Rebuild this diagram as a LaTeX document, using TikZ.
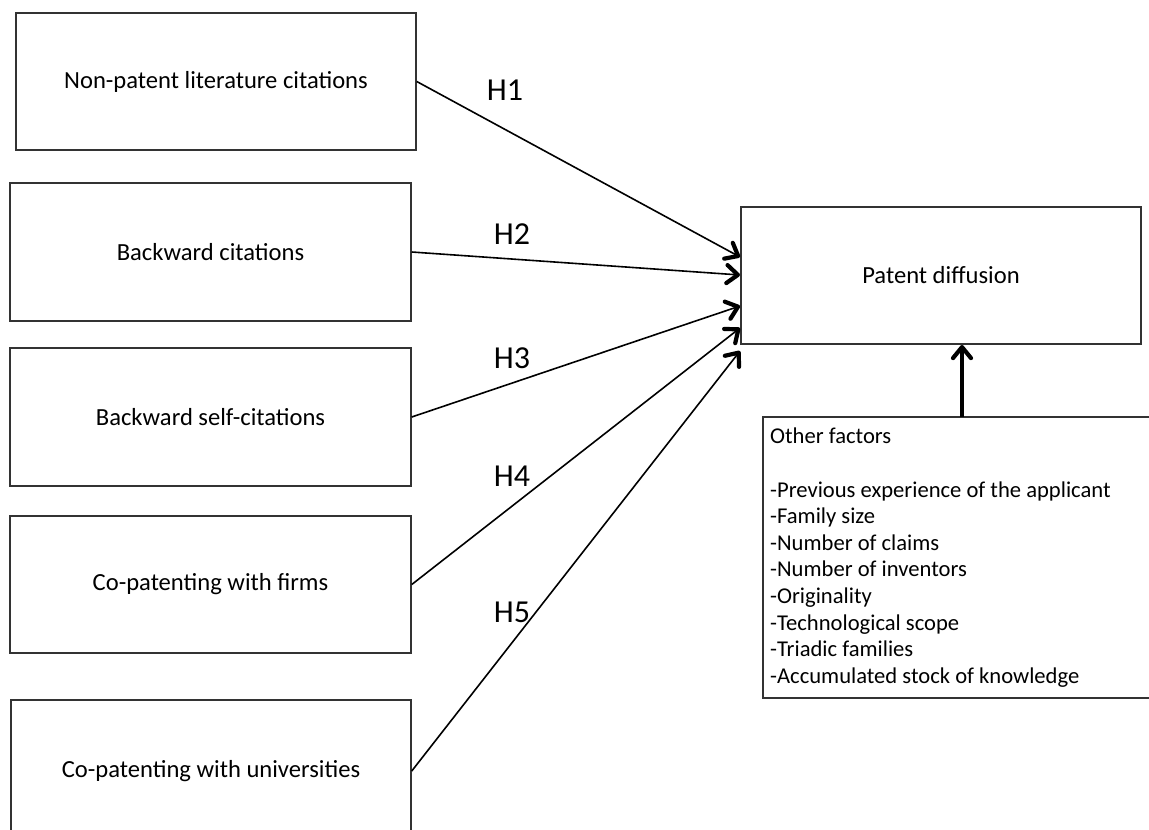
\documentclass[tikz,border=0pt]{standalone}
\usepackage{fontspec}
\setmainfont{Carlito}
\usetikzlibrary{arrows.meta}
\begin{document}
\begin{tikzpicture}[x=1pt,y=-1pt,
  box/.style={draw=black!80,line width=1.5pt,inner sep=0pt,font=\fontsize{24.6}{29}\selectfont},
  hyp/.style={font=\fontsize{32}{36}\selectfont,inner sep=0pt},
  conn/.style={line width=1.6pt,-{Straight Barb[length=11pt,width=18pt,line width=4.2pt,round]}},
  bigconn/.style={line width=3.2pt,-{Straight Barb[length=11pt,width=18pt,line width=4.2pt,round]}}]
\useasboundingbox (0,0) rectangle (1149,830);
\clip (0,0) rectangle (1149,830);
\fill[white] (0,0) rectangle (1149,830);
\node[box,minimum width=400pt,minimum height=137pt] (b1) at (216,81.5) {Non-patent literature citations};
\node[box,minimum width=401pt,minimum height=138pt] (b2) at (210.5,252) {Backward citations};
\node[box,minimum width=401pt,minimum height=138pt] (b3) at (210.5,417) {Backward self-citations};
\node[box,minimum width=401pt,minimum height=137pt] (b4) at (210.5,584.5) {Co-patenting with firms};
\node[box,minimum width=400pt,minimum height=142pt] (b5) at (211,771) {Co-patenting with universities};
\node[box,minimum width=400pt,minimum height=137pt] (pd) at (941,275.5) {Patent diffusion};
\node[draw=black!80,line width=1.5pt,minimum width=400pt,minimum height=281pt,inner sep=0pt] (of) at (963,557.5) {};
\node[anchor=north west,align=left,inner sep=0pt,font=\fontsize{22.6}{26.6}\selectfont] (oft) at (770,428)
 {Other factors\\[26.6pt]-Previous experience of the applicant\\-Family size\\-Number of claims\\-Number of inventors\\-Originality\\-Technological scope\\-Triadic families\\-Accumulated stock of knowledge};
\coordinate (e1) at (740,257);
\coordinate (e2) at (740,275);
\coordinate (e3) at (740,306);
\coordinate (e4) at (740,328);
\coordinate (e5) at (740,351);
\coordinate (ofTop) at (962,417);
\coordinate (pdBot) at (962,345);
\draw[conn] (b1.east) -- (e1);
\draw[conn] (b2.east) -- (e2);
\draw[conn] (b3.east) -- (e3);
\draw[conn] (b4.east) -- (e4);
\draw[conn] (b5.east) -- (e5);
\draw[bigconn] (ofTop) -- (pdBot);
\node[hyp] (h1) at (505,90) {H1};
\node[hyp] (h2) at (512,234) {H2};
\node[hyp] (h3) at (512,358) {H3};
\node[hyp] (h4) at (512,476) {H4};
\node[hyp] (h5) at (512,612) {H5};
\end{tikzpicture}
\end{document}
